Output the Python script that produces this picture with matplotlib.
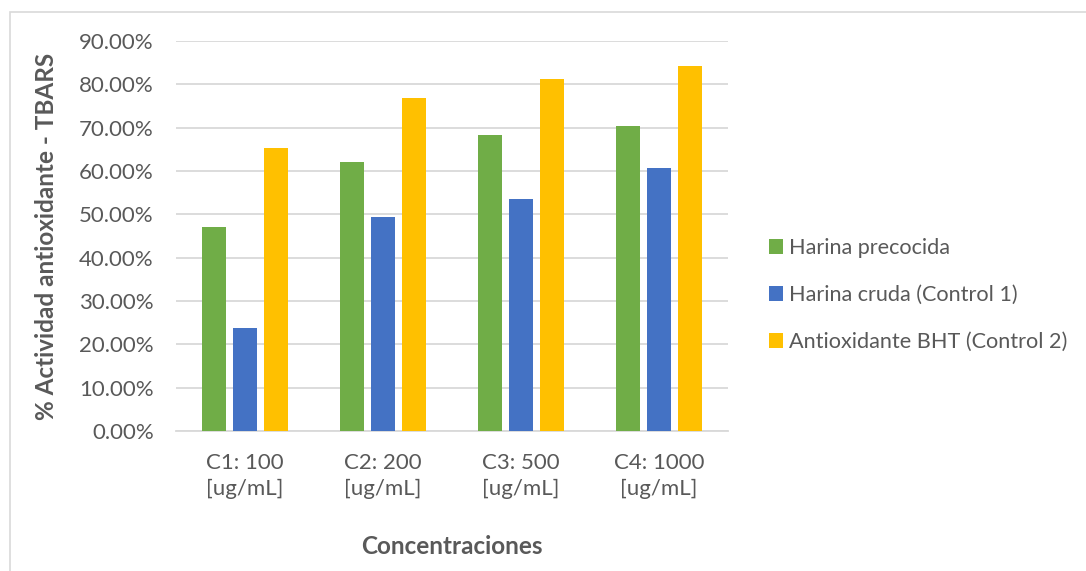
import matplotlib.pyplot as plt
import numpy as np
from matplotlib.patches import Rectangle

categories = ['C1: 100\n[ug/mL]', 'C2: 200\n[ug/mL]', 'C3: 500\n[ug/mL]', 'C4: 1000\n[ug/mL]']
series_names = ['Harina precocida', 'Harina cruda (Control 1)', 'Antioxidante BHT (Control 2)']
precocida = [0.470, 0.620, 0.682, 0.704]
cruda = [0.237, 0.493, 0.535, 0.606]
bht = [0.652, 0.768, 0.813, 0.843]
colors = ['#70AD47', '#4472C4', '#FFC000']

plt.rcParams['font.family'] = ['Lato', 'DejaVu Sans']

fig = plt.figure(figsize=(10.86, 5.71), dpi=100)
W, H = 1086, 571
ax = fig.add_axes([176 / W, 140 / H, 552 / W, 390 / H])

# chart frame (cropped on the right and bottom)
fig.patches.append(Rectangle((10 / W, -0.1), 1.2, (H - 12) / H + 0.1,
                             transform=fig.transFigure, fill=False,
                             edgecolor='#d9d9d9', lw=1.2))

x = np.arange(len(categories))
width = 0.175
step = 0.222
for i, (vals, name) in enumerate(zip([precocida, cruda, bht], series_names)):
    ax.bar(x + (i - 1) * step, vals, width, color=colors[i], label=name, zorder=3)

ax.set_xlim(-0.5, len(categories) - 0.5)
ax.set_ylim(0, 0.9)
ax.set_yticks(np.arange(0, 0.91, 0.1))
ax.set_yticklabels([f'{v * 100:.2f}%' for v in np.arange(0, 0.91, 0.1)])
ax.set_xticks(x)
ax.set_xticklabels(categories, linespacing=1.35)
ax.tick_params(axis='both', length=0, labelsize=16, labelcolor='#595959')
ax.tick_params(axis='y', pad=16)
ax.tick_params(axis='x', pad=16)
ax.grid(axis='y', color='#d9d9d9', lw=1.3, zorder=0)
for s in ['top', 'right', 'left']:
    ax.spines[s].set_visible(False)
ax.spines['bottom'].set_color('#d9d9d9')
ax.spines['bottom'].set_linewidth(1.3)

ax.set_ylabel('% Actividad antioxidante - TBARS', fontsize=17.5, fontweight='bold',
              color='#595959', labelpad=15)
ax.set_xlabel('Concentraciones', fontsize=17.5, fontweight='bold', color='#595959',
              labelpad=26)

ax.legend(loc='center left', bbox_to_anchor=(749 / W, (H - 295) / H),
          bbox_transform=fig.transFigure, frameon=False, fontsize=15.6,
          handlelength=0.65, handleheight=0.65, handletextpad=0.3,
          labelspacing=1.25, labelcolor='#595959')

fig.savefig('out.png', dpi=100)
